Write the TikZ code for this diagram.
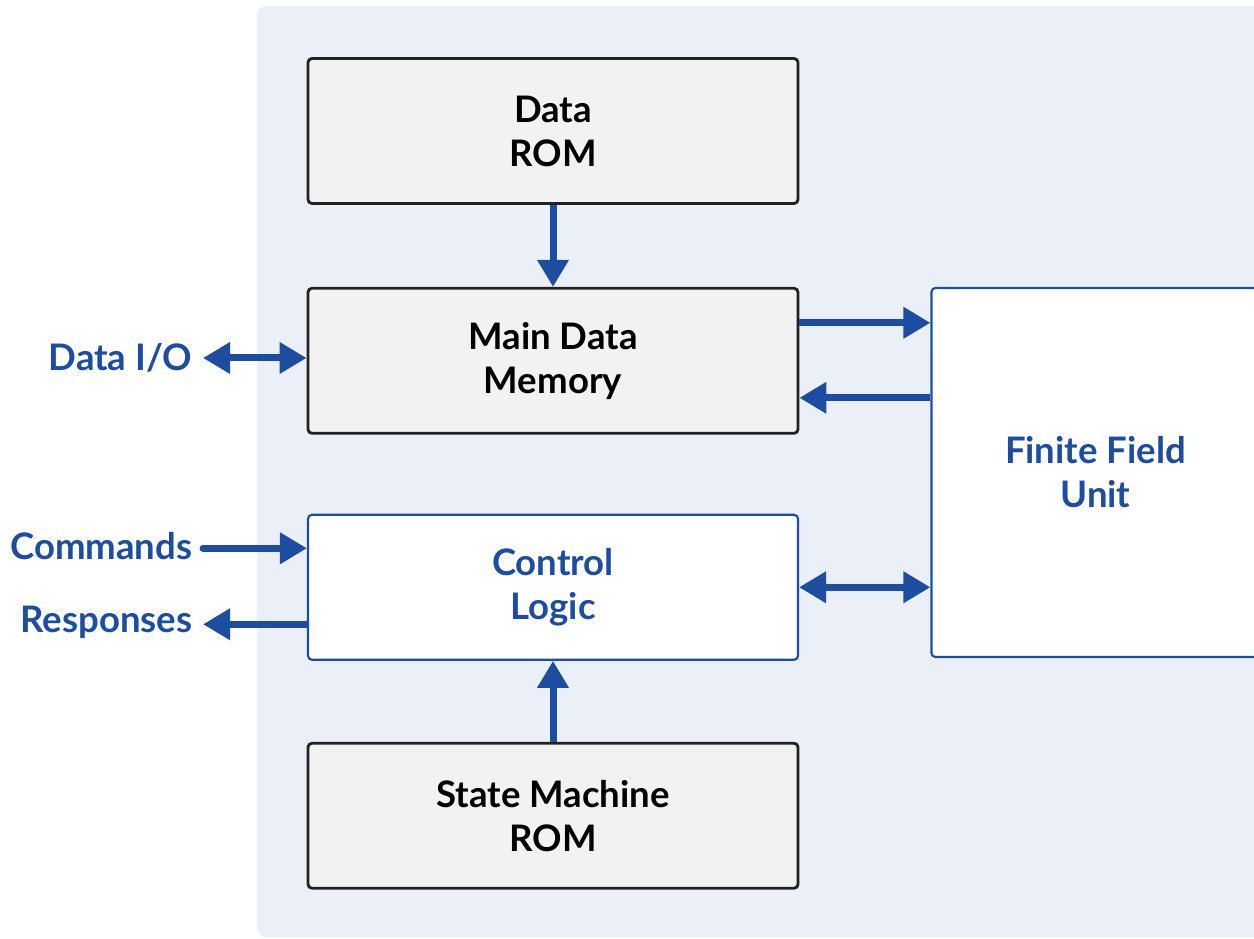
\documentclass[tikz,border=0pt]{standalone}
\usepackage{fontspec}
\setmainfont{Lato}
\usetikzlibrary{positioning, calc, arrows.meta}

\definecolor{linkblue}{HTML}{1C4DA1}
\definecolor{panel}{HTML}{EBF0F8}
\definecolor{romgray}{HTML}{F2F2F2}
\definecolor{edge}{HTML}{222222}

\tikzset{
  block/.style={draw=edge, line width=0.8pt, fill=romgray, rounded corners=0.04cm,
    minimum width=4.9cm, minimum height=1.45cm, align=center,
    font=\fontsize{10.4}{12.5}\selectfont\bfseries},
  logic/.style={block, draw=linkblue, line width=0.6pt, fill=white, text=linkblue},
  port/.style={text=linkblue, font=\fontsize{10.4}{12.5}\selectfont\bfseries,
    anchor=east, inner sep=0.1cm},
  bus/.style={draw=linkblue, line width=0.07cm,
    -{Triangle[length=0.27cm, width=0.30cm]}},
  busboth/.style={bus, {Triangle[length=0.27cm, width=0.30cm]}-{Triangle[length=0.27cm, width=0.30cm]}}
}

\begin{document}
\begin{tikzpicture}

\useasboundingbox (0, 0) rectangle (12.54, 9.38);

% light panel behind the core
\fill [panel, rounded corners=0.09cm] (2.57, 0.01) rectangle (12.80, 9.32);

\node [block] (rom) at (5.53, 8.07) {Data\\ROM};
\node [block, below=0.82cm of rom] (mdm) {Main Data\\Memory};
\node [logic, below=0.79cm of mdm] (ctl) {Control\\Logic};
\node [block, below=0.81cm of ctl] (smr) {State Machine\\ROM};

\node [logic, minimum width=3.28cm, minimum height=3.69cm,
       right=1.31cm of mdm.north east, anchor=north west] (ffu) {Finite Field\\Unit};

% outside ports
\node [port] (dio) at (2.03, 5.80) {Data I/O};
\node [port] (cmd) at (2.03, 3.92) {Commands};
\node [port] (rsp) at (2.03, 3.16) {Responses};

\coordinate (mo) at ([yshift=0.38cm]mdm.east);
\coordinate (mi) at ([yshift=-0.37cm]mdm.east);
\coordinate (ci) at ([yshift=0.39cm]ctl.west);
\coordinate (co) at ([yshift=-0.37cm]ctl.west);

\draw [bus] (rom) -- (mdm);
\draw [bus] (mo) -- (mo -| ffu.west);
\draw [bus] (mi -| ffu.west) -- (mi);
\draw [busboth] (ctl.east) -- (ctl.east -| ffu.west);
\draw [bus] (smr) -- (ctl);

\draw [busboth] (dio.east) -- (dio.east -| mdm.west);
\draw [bus, line cap=round] (cmd.east |- ci) -- (ci);
\draw [bus] (co) -- (co -| rsp.east);

\end{tikzpicture}
\end{document}
